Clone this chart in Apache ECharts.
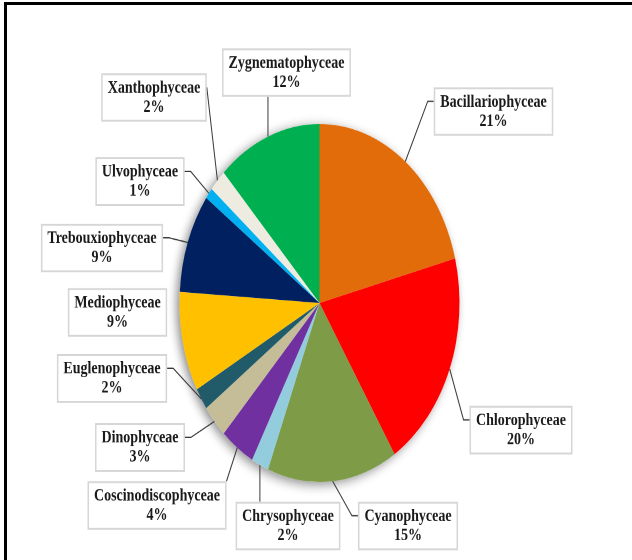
<!DOCTYPE html>
<html>
<head>
<meta charset="utf-8">
<script src="https://cdn.jsdelivr.net/npm/echarts@6/dist/echarts.min.js"></script>
<style>
  html, body { margin: 0; padding: 0; background: #fff; }
  #wrap { position: relative; width: 632px; height: 560px; overflow: hidden; background: #fff; }
  /* the whole drawing is stretched vertically, text and lines included */
  #chart { position: absolute; left: 0; top: 0; width: 632px; height: 438px;
           transform: scaleY(1.2785); transform-origin: 0 0; }
  #frame { position: absolute; left: 4px; top: 2px; width: 700px; height: 700px;
           border-top: 3px solid #000; border-left: 3px solid #000; box-sizing: border-box; }
</style>
</head>
<body>
<div id="wrap">
  <div id="chart"></div>
  <div id="frame"></div>
</div>
<script>
// vertical stretch applied to the chart element (page height / chart height)
const STRETCH = 560 / 438;

// algal classes, clockwise from 12 o'clock
const categories = [
  'Bacillariophyceae', 'Chlorophyceae', 'Cyanophyceae', 'Chrysophyceae',
  'Coscinodiscophyceae', 'Dinophyceae', 'Euglenophyceae', 'Mediophyceae',
  'Trebouxiophyceae', 'Ulvophyceae', 'Xanthophyceae', 'Zygnematophyceae'
];

// share of taxa per class (%)
const shares = [21, 20, 15, 2, 4, 3, 2, 9, 9, 1, 2, 12];

const sliceColors = [
  '#E36C0A', '#FF0000', '#7E9B48', '#93CDDD',
  '#7030A0', '#C4BD97', '#215A69', '#FFC000',
  '#002060', '#00B0F0', '#EEECE1', '#00B050'
];

// callout box centres in page pixels, and how each leader line meets its box
const calloutCentres = {
  Bacillariophyceae:   [493.5, 111.5],
  Chlorophyceae:       [521, 430],
  Cyanophyceae:        [408, 526],
  Chrysophyceae:       [288, 526],
  Coscinodiscophyceae: [157, 505.5],
  Dinophyceae:         [140, 447.5],
  Euglenophyceae:      [112, 378.5],
  Mediophyceae:        [117.5, 312.5],
  Trebouxiophyceae:    [102, 248],
  Ulvophyceae:         [140, 181.5],
  Xanthophyceae:       [154, 97.5],
  Zygnematophyceae:    [286.5, 72.5]
};
const leaderKind = {
  Bacillariophyceae: 'stubLeft', Chlorophyceae: 'stubLeft', Cyanophyceae: 'stubLeft',
  Chrysophyceae: 'down', Coscinodiscophyceae: 'corner', Dinophyceae: 'stubRight',
  Euglenophyceae: 'stubRight', Mediophyceae: 'none', Trebouxiophyceae: 'stubRight',
  Ulvophyceae: 'stubRight', Xanthophyceae: 'direct', Zygnematophyceae: 'up'
};

const PIE_CENTER = [319.5, 237];
const PIE_RADIUS = 140;

const pieData = categories.map((name, i) => ({
  name: name,
  value: shares[i],
  itemStyle: { color: sliceColors[i] },
  labelLine: { show: leaderKind[name] !== 'none' }
}));

const chart = echarts.init(document.getElementById('chart'), null, {
  renderer: 'canvas', devicePixelRatio: 2
});

chart.setOption({
  backgroundColor: 'transparent',
  animation: false,
  series: [
    {
      // soft drop shadow behind the pie
      type: 'pie',
      silent: true,
      center: PIE_CENTER,
      radius: PIE_RADIUS,
      z: 1,
      label: { show: false },
      labelLine: { show: false },
      itemStyle: {
        color: '#ffffff',
        shadowBlur: 9,
        shadowColor: 'rgba(0,0,0,0.45)',
        shadowOffsetX: -3,
        shadowOffsetY: 2
      },
      data: [{ value: 1 }]
    },
    {
      type: 'pie',
      z: 2,
      center: PIE_CENTER,
      radius: PIE_RADIUS,
      startAngle: 90,
      clockwise: true,
      percentPrecision: 0,
      avoidLabelOverlap: false,
      itemStyle: { borderWidth: 0 },
      label: {
        show: true,
        position: 'outside',
        formatter: '{b}\n{d}%',
        fontFamily: '"Liberation Serif", "DejaVu Serif", serif',
        fontWeight: 'bold',
        fontSize: 14,
        lineHeight: 15,
        color: '#1a1a1a',
        align: 'center',
        backgroundColor: '#ffffff',
        borderColor: '#d6d6d6',
        borderWidth: 1.5,
        padding: [3, 5, 2, 5]
      },
      labelLine: {
        show: true,
        smooth: false,
        lineStyle: { color: '#3a3a3a', width: 1 }
      },
      labelLayout: function (p) {
        const name = categories[p.dataIndex];
        const c = calloutCentres[name];
        const w = p.labelRect.width;
        const h = p.labelRect.height;
        const cx = c[0];
        const cy = c[1] / STRETCH;
        const left = cx - w / 2, right = cx + w / 2;
        const top = cy - h / 2, bottom = cy + h / 2;
        const lineY = top + 11;
        const out = { x: cx, y: cy, align: 'center', verticalAlign: 'middle' };
        const pts = p.labelLinePoints;
        if (pts && pts.length) {
          const s = pts[0];
          switch (leaderKind[name]) {
            case 'stubLeft':  out.labelLinePoints = [s, [left - 6, lineY], [left, lineY]]; break;
            case 'stubRight': out.labelLinePoints = [s, [right + 6, lineY], [right, lineY]]; break;
            case 'down':      out.labelLinePoints = [s, [s[0], top]]; break;
            case 'up':        out.labelLinePoints = [s, [s[0], bottom]]; break;
            case 'corner':    out.labelLinePoints = [s, [right, top]]; break;
            case 'direct':    out.labelLinePoints = [s, [right, lineY]]; break;
          }
        }
        return out;
      },
      data: pieData
    }
  ]
});
</script>
</body>
</html>
